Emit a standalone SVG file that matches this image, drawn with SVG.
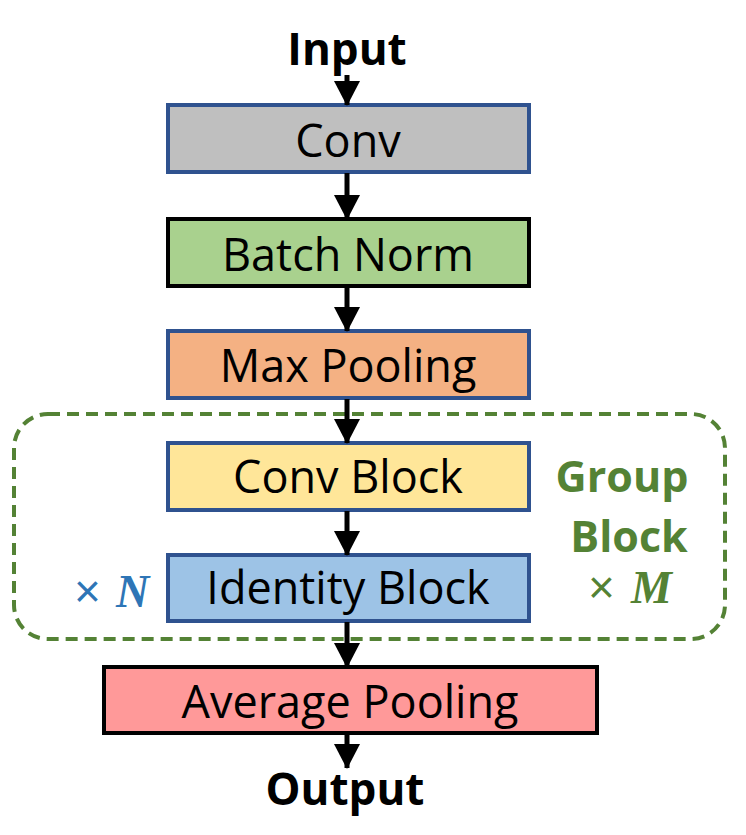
<svg xmlns="http://www.w3.org/2000/svg" width="746" height="835" viewBox="0 0 746 835">
<defs>
<marker id="ah" markerWidth="25" markerHeight="26" refX="24" refY="13" orient="auto" markerUnits="userSpaceOnUse">
<path d="M0,0 L25,13 L0,26 Z" fill="#000"/>
</marker>
<style>
.box{stroke-width:4}
.bl{stroke:#2F528F}
.bk{stroke:#000}
.lbl{font-family:"Open Sans","Liberation Sans",sans-serif;font-size:45px;fill:#000;text-anchor:middle}
.io{font-family:"Open Sans","Liberation Sans",sans-serif;font-size:44px;font-weight:bold;fill:#000;text-anchor:middle}
.conn line{stroke:#000;stroke-width:5;marker-end:url(#ah)}
.grp{font-family:"Open Sans","Liberation Sans",sans-serif;font-size:43px;font-weight:bold;fill:#548235;text-anchor:middle}
.times{font-family:"Liberation Sans",sans-serif;font-size:46px}
.var{font-family:"Liberation Serif",serif;font-style:italic;font-weight:bold;font-size:46px}
</style>
</defs>
<rect width="746" height="835" fill="#fff"/>
<g id="group-block">
<rect x="14" y="414" width="711" height="225" rx="34" fill="none" stroke="#548235" stroke-width="4" stroke-dasharray="12,7"/>
<text class="grp" x="622" y="492">Group</text>
<text class="grp" x="629" y="552">Block</text>
<text class="times" x="588" y="603" fill="#548235" font-size="42">×</text>
<text class="var" x="631" y="603" fill="#548235" font-size="42">M</text>
</g>
<g id="input"><text class="io" x="347" y="65">Input</text></g>
<g id="conv"><rect class="box bl" x="168" y="105" width="361" height="67" fill="#BFBFBF"/><text class="lbl" x="348" y="157">Conv</text></g>
<g id="batchnorm"><rect class="box bk" x="168" y="219" width="361" height="67" fill="#A9D18E"/><text class="lbl" x="348" y="271">Batch Norm</text></g>
<g id="maxpool"><rect class="box bl" x="168" y="331" width="361" height="67" fill="#F4B183"/><text class="lbl" x="348" y="382">Max Pooling</text></g>
<g id="convblock"><rect class="box bl" x="168" y="443" width="361" height="67" fill="#FFE699"/><text class="lbl" x="348" y="493">Conv Block</text></g>
<g id="identity"><rect class="box bl" x="168" y="555" width="361" height="66" fill="#9DC3E6"/><text class="lbl" x="348" y="604">Identity Block</text>
<text class="times" x="74" y="607" fill="#2E75B6">×</text>
<text class="var" x="116" y="607" fill="#2E75B6">N</text></g>
<g id="avgpool"><rect class="box bk" x="104" y="667" width="493" height="66" fill="#FF9999"/><text class="lbl" x="350" y="718">Average Pooling</text></g>
<g id="output"><text class="io" x="345" y="805">Output</text></g>
<g class="conn" id="connectors">
<line x1="347" y1="75" x2="347" y2="105"/>
<line x1="347" y1="173" x2="347" y2="219"/>
<line x1="347" y1="287" x2="347" y2="331"/>
<line x1="347" y1="399" x2="347" y2="443"/>
<line x1="347" y1="511" x2="347" y2="555"/>
<line x1="347" y1="622" x2="347" y2="667"/>
<line x1="347" y1="734" x2="347" y2="768"/>
</g>
</svg>
